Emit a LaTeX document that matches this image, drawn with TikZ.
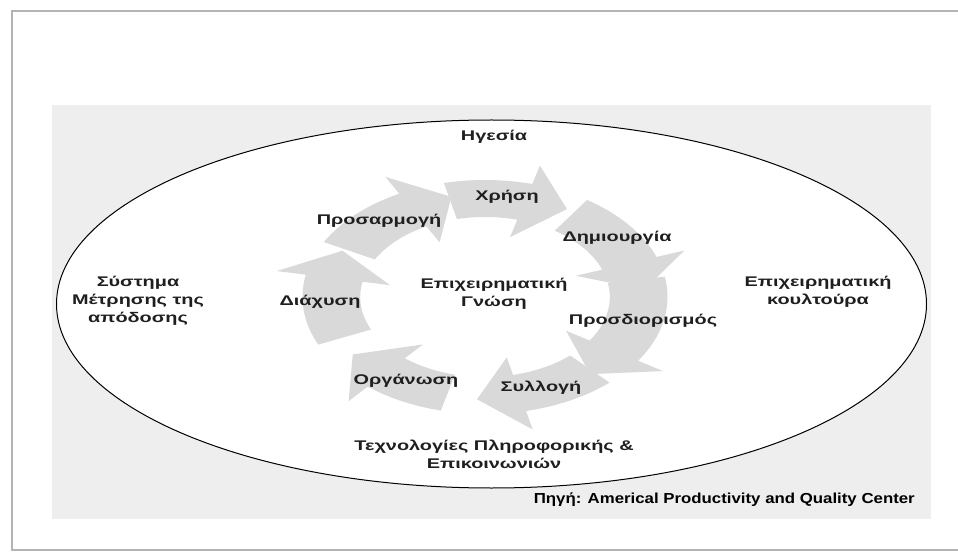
\documentclass[tikz,border=0pt]{standalone}
\usepackage{fontspec}
\setmainfont{Liberation Sans}
\newfontfamily\lblfont[FakeStretch=1.42]{Liberation Sans}
\newfontfamily\srcfont[FakeStretch=1.16]{Liberation Sans}
\definecolor{framegray}{HTML}{B4B4B4}
\definecolor{bggray}{HTML}{EEEEEE}
\definecolor{arrowgray}{HTML}{D9D9D9}
\newcommand\cycarr[2]{%
  \fill[arrowgray] (#1:117) arc[start angle=#1, end angle=#2, radius=117]
    -- (#2:136)
    -- ({98.5*cos(#2)+28*sin(#2)},{98.5*sin(#2)-28*cos(#2)})
    -- (#2:62) -- (#2:80)
    arc[start angle=#2, end angle=#1, radius=80] -- cycle;}
\begin{document}
\begin{tikzpicture}[x=1pt,y=1pt,
  lbl/.style={font=\lblfont\bfseries\fontsize{14}{18}\selectfont, align=center, inner sep=0pt, text=black!88},
  srclbl/.style={font=\srcfont\bfseries\fontsize{14.5}{16}\selectfont, inner sep=0pt, anchor=east}]
\useasboundingbox (0,0) rectangle (958,-553);
\fill[white] (0,0) rectangle (958,-553);
\draw[framegray, line width=1.5] (12,-11) rectangle (966,-550);
\fill[bggray] (52,-105) rectangle (931,-519);
\draw[fill=white, line width=1] (491.5,-304) ellipse [x radius=435, y radius=184];
\begin{scope}[shift={(485,-297)}, xscale=1.56]
  \cycarr{103}{75}
  \cycarr{56}{20}
  \cycarr{10}{-33}
  \cycarr{-47}{-77}
  \cycarr{-104}{-130}
  \cycarr{-156}{-191}
  \cycarr{-208}{-242}
\end{scope}
\node[lbl] (lead) at (494,-137) {Ηγεσία};
\node[lbl] (use) at (507,-197) {Χρήση};
\node[lbl] (adapt) at (379,-221) {Προσαρμογή};
\node[lbl] (create) at (617,-238) {Δημιουργία};
\node[lbl] (know) at (494,-294) {Επιχειρηματική\\Γνώση};
\node[lbl] (diff) at (320,-302) {Διάχυση};
\node[lbl] (ident) at (643,-321) {Προσδιορισμός};
\node[lbl] (org) at (406,-381) {Οργάνωση};
\node[lbl] (coll) at (541,-388) {Συλλογή};
\node[lbl] (ict) at (494,-454) {Τεχνολογίες Πληροφορικής \&\\Επικοινωνιών};
\node[lbl] (perf) at (138,-301) {Σύστημα\\Μέτρησης της\\απόδοσης};
\node[lbl] (cult) at (818,-292) {Επιχειρηματική\\κουλτούρα};
\node[srclbl] (src) at (915,-500) {Πηγή: Americal Productivity and Quality Center};
\end{tikzpicture}
\end{document}
